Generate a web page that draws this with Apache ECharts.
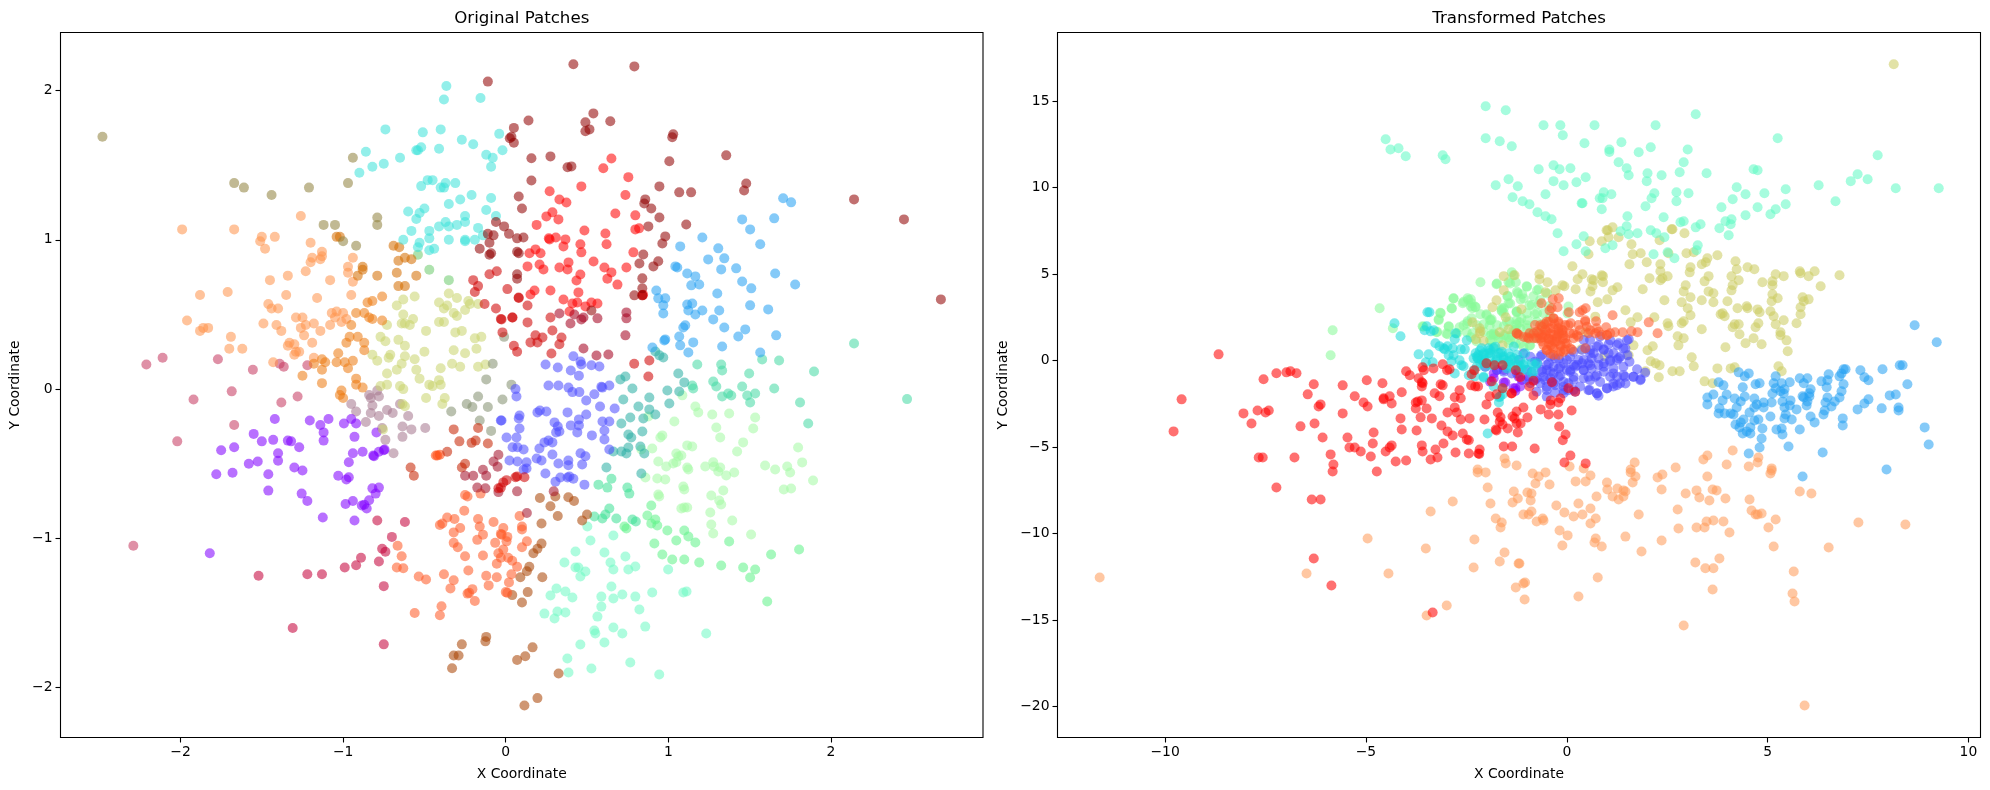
<!DOCTYPE html>
<html>
<head>
<meta charset="utf-8">
<title>Patch scatter</title>
<script src="https://cdn.jsdelivr.net/npm/echarts@6/dist/echarts.min.js"></script>
<style>html,body{margin:0;padding:0;background:#fff}#chart{width:1990px;height:790px}</style>
</head>
<body>
<div id="chart"></div>
<script>
// Original patch coordinates, one list per colour group.
const origKhaki=[[-2.48,1.69],[-1.67,1.38],[-1.61,1.35],[-1.44,1.3],[-1.21,1.35],[-.97,1.38],[-.94,1.55],[-1.12,1.1],[-1.05,1.1],[-.79,1.15],[-.79,1.1],[-1,.99],[-.92,.96]];
const origAmberDark=[[-.69,.96],[-.66,.86],[-.655,.95],[-.67,.78],[-.79,.76],[-.55,.76],[-.66,.69],[-.62,.69],[-.88,.82],[-.88,.8],[-.62,.88],[-.58,.87],[-1.04,1.02],[-1.02,1.02],[-.91,.76]];
const origAmber=[[-.85,.58],[-.82,.59],[-.76,.62],[-.92,.51],[-.87,.51],[-.84,.48],[-.82,.47],[-.76,.46],[-.95,.43],[-.96,.35],[-.91,.35],[-.98,.31],[-.87,.31],[-.87,.26],[-1.03,.24],[-1.04,.18],[-.99,.18],[-.94,.19],[-.97,.14],[-1.13,.2],[-1.11,.18],[-1.13,.13],[-1.18,.17],[-1.25,.09],[-1.13,.04],[-.92,.07],[-.92,.03],[-.88,.01],[-1.01,-.01],[-1.02,-.04],[-1,-.06]];
const origPeach=[[-1.99,1.07],[-1.67,1.07],[-1.26,1.16],[-1.5,1.02],[-1.51,.99],[-1.42,1.02],[-1.48,.94],[-1.2,.98],[-1.13,.92],[-1.13,.89],[-1.19,.88],[-1.14,.87],[-1.2,.85],[-1.23,.79],[-1.34,.76],[-1.45,.73],[-1.08,.73],[-.94,.88],[-.97,.82],[-.97,.78],[-.94,.72],[-1.71,.65],[-1.88,.63],[-1.35,.63],[-1.16,.61],[-.95,.63],[-1.46,.57],[-1.44,.54],[-1.4,.54],[-1.96,.46],[-1.88,.39],[-1.86,.41],[-1.83,.41],[-1.49,.44],[-1.41,.43],[-1.38,.39],[-1.29,.48],[-1.25,.48],[-1.26,.41],[-1.23,.43],[-1.18,.44],[-1.14,.39],[-1.24,.36],[-1.19,.31],[-1.07,.51],[-1.04,.52],[-1,.51],[-1.05,.48],[-.98,.47],[-1.08,.43],[-1.01,.45],[-1.69,.35],[-1.7,.27],[-1.62,.27],[-1.34,.29],[-1.33,.31],[-1.3,.3],[-1.29,.25],[-1.27,.25],[-1.3,.23],[-1.18,.21],[-1.43,.18]];
const origYellow=[[-.73,.43],[-.77,.35],[-.74,.32],[-.66,.33],[-.62,.29],[-.82,.23],[-.79,.19],[-.71,.23],[-.72,.21],[-.62,.22],[-.5,.25],[-.56,.2],[-.64,.17],[-.67,.13],[-.73,.105],[-.55,.13],[-.53,.07],[-.77,.02],[-.73,.03],[-.65,.02],[-.63,0],[-.47,.03],[-.45,.02],[-.41,.06],[-.4,.03],[-.4,.14],[-.28,.15],[-.33,.17],[-.17,.15],[-.125,.165],[-.25,.24],[-.32,.26],[-.18,.27],[-.19,.34],[-.15,.35],[-.31,.38],[-.27,.39],[-.49,.39],[-.57,.47],[-.59,.43],[-.62,.44],[-.64,.44],[-.63,.5],[-.67,.56],[-.63,.6],[-.56,.62],[-.41,.58],[-.35,.64],[-.3,.61],[-.23,.59],[-.22,.57],[-.17,.57],[-.25,.53],[-.38,.54],[-.36,.56],[-.32,.51],[-.3,.49],[-.41,.45],[-.38,.45],[-.49,-.06],[-.375,-.06],[-.39,-.1],[-.62,-.115],[-.635,-.1],[-.755,-.27]];
const origSageGreen=[[-.54,.9],[-.47,.8],[-.35,.73]];
const origCyan=[[-.365,2.03],[-.38,1.94],[-.155,1.95],[-.74,1.74],[-.51,1.72],[-.4,1.74],[-.27,1.67],[-.2,1.64],[-.04,1.71],[-.02,1.6],[-.41,1.61],[-.52,1.62],[-.55,1.6],[-.54,1.6],[-.65,1.55],[-.86,1.59],[-.9,1.45],[-.82,1.49],[-.75,1.51],[-.12,1.57],[-.08,1.55],[-.09,1.49],[-.48,1.4],[-.45,1.4],[-.52,1.36],[-.37,1.38],[-.31,1.38],[-.4,1.35],[-.38,1.35],[-.21,1.3],[-.28,1.27],[-.35,1.24],[-.09,1.28],[-.12,1.2],[-.5,1.21],[-.53,1.18],[-.6,1.19],[-.55,1.14],[-.06,1.16],[-.25,1.16],[-.25,1.12],[-.3,1.1],[-.37,1.12],[-.41,1.09],[-.35,1.09],[-.47,1.06],[-.58,1.06],[-.17,1.08],[-.47,1.01],[-.63,1],[-.53,.98],[-.54,.95],[-.47,.93],[-.44,.94],[-.35,1],[-.25,1],[-.25,.99],[-.19,1],[-.14,1.03]];
const origSage=[[-.01,.35],[-.08,.17],[-.12,.065],[-.17,-.05],[-.02,-.07],[.035,.03],[-.335,-.15],[-.24,-.1],[-.205,-.12],[-.11,-.12],[-.16,-.21],[-.09,-.28]];
const origRose=[[-2.21,.165],[-2.11,.21],[-1.77,.2],[-1.555,.13],[-1.39,.17],[-1.365,.15],[-1.22,.16],[-1.685,-.015],[-1.92,-.07],[-1.28,-.05],[-1.38,-.09],[-2.29,-1.05],[-2.02,-.35],[-1.67,-.24]];
const origRoseDark=[[-1.52,-1.25],[-1.22,-1.24],[-1.13,-1.24],[-1.31,-1.6],[-.75,-1.71],[-.75,-1.32],[-.99,-1.195],[-.92,-1.18],[-.89,-1.13],[-.78,-1.155],[-.76,-1.07],[-.74,-1.09],[-.7,-.99],[-.79,-.88],[-.62,-.89]];
const origPurple=[[-1.82,-1.1],[-1.42,-.2],[-1.55,-.3],[-1.5,-.35],[-1.43,-.34],[-1.75,-.41],[-1.67,-.39],[-1.34,-.345],[-1.32,-.35],[-1.27,-.39],[-1.4,-.43],[-1.4,-.48],[-1.58,-.5],[-1.525,-.485],[-1.78,-.57],[-1.68,-.56],[-1.46,-.57],[-1.3,-.525],[-1.25,-.545],[-1.46,-.68],[-1.255,-.7],[-1.22,-.75],[-1.125,-.86],[-1.205,-.21],[-1.14,-.24],[-1.12,-.29],[-1.12,-.345],[-1.09,-.2],[-.995,-.23],[-.95,-.2],[-.92,-.23],[-.93,-.32],[-.795,-.29],[-.94,-.43],[-.88,-.42],[-.815,-.445],[-.81,-.45],[-.78,-.42],[-.75,-.41],[-.745,-.405],[-.965,-.49],[-1.03,-.58],[-.965,-.59],[-.98,-.605],[-.82,-.665],[-.78,-.66],[-.8,-.7],[-.84,-.745],[-.985,-.77],[-.94,-.75],[-.885,-.78],[-.87,-.775],[-.855,-.8],[-.93,-.88]];
const origTaupe=[[-.95,-.1],[-.92,-.15],[-.86,-.22],[-.83,-.16],[-.82,-.11],[-.83,-.06],[-.78,-.05],[-.78,-.18],[-.73,-.14],[-.695,-.16],[-.65,-.1],[-.6,-.18],[-.635,-.25],[-.58,-.27],[-.635,-.32],[-.74,-.34],[-.76,-.26],[-.69,-.43],[-.495,-.26],[-.79,-.01],[-.84,-.04]];
const origBrick=[[-.32,-.27],[-.17,-.26],[-.285,-.35],[-.21,-.36],[-.185,-.345],[-.11,-.365],[-.36,-.42],[-.585,-.525],[-.565,-.58],[-.27,-.525],[-.25,-.5]];
const origOrangeRed=[[-.42,-.445],[-.43,-.445],[-.405,-.44]];
const origDuskyRose=[[-.045,-.44],[-.075,-.485],[-.05,-.52],[-.14,-.54],[-.25,-.58],[-.2,-.58],[-.12,-.58],[-.175,-.66],[-.125,-.665],[-.045,-.69],[.07,-.685],[.295,-.685],[.13,-.83]];
const origCoral=[[-.25,-.71],[-.235,-.72],[-.155,-.7],[-.255,-.815],[-.36,-.86],[-.315,-.87],[-.405,-.91],[-.39,-.9],[-.28,-.93],[-.17,-.87],[-.16,-.92],[-.075,-.89],[-.015,-.93],[-.32,-.96],[-.14,-.975],[-.175,-1.01],[-.32,-1.03],[-.295,-1.06],[-.065,-1.03],[-.03,-.97],[-.025,-.975],[.01,-.99],[.005,-1.02],[-.015,-1.075],[-.25,-1.12],[-.14,-1.115],[-.045,-1.1],[-.03,-1.13],[.015,-1.13],[.04,-1.15],[-.055,-1.17],[.07,-1.19],[-.23,-1.215],[-.665,-1.05],[-.64,-1.12],[-.67,-1.195],[-.63,-1.2],[-.535,-1.255],[-.49,-1.275],[-.38,-1.24],[-.32,-1.28],[-.34,-1.335],[-.205,-1.34],[-.235,-1.37],[-.225,-1.365],[-.12,-1.25],[-.055,-1.26],[-.105,-1.315],[.035,-1.24],[.02,-1.295],[0,-1.36],[.01,-1.365],[-.19,-1.42],[-.395,-1.455],[-.56,-1.5],[-.405,-1.515],[.085,-.85],[.1,-.92],[.1,-.94],[.13,-1.02],[.1,-1.06]];
const origBrown=[[-.27,-1.71],[-.32,-1.785],[-.29,-1.785],[-.33,-1.87],[-.12,-1.66],[-.125,-1.69],[.165,-1.73],[.12,-1.79],[.07,-1.815],[.325,-1.905],[.195,-2.07],[.115,-2.12],[.21,-.73],[.305,-.72],[.385,-.725],[.42,-.75],[.275,-.785],[.32,-.85],[.22,-.9],[.47,-.88],[.5,-.84],[.22,-1.035],[.195,-1.07],[.17,-1.1],[.145,-1.19],[.13,-1.22],[.09,-1.26],[.225,-1.26],[.135,-1.36],[.04,-1.38],[.1,-1.43]];
const origBlue=[[.066,-.05],[.495,-.076],[.545,-.035],[.58,-.116],[.67,-.13],[.495,-.17],[.38,-.156],[.195,-.156],[.21,-.143],[.25,-.15],[.085,-.177],[.08,-.197],[-.026,-.21],[.3,-.223],[.32,-.25],[.45,-.203],[.45,-.243],[.4,-.243],[.595,-.217],[.637,-.217],[.085,-.264],[.33,-.284],[.31,-.29],[.44,-.29],[.607,-.277],[.53,-.31],[.005,-.324],[.066,-.324],[.263,-.344],[.287,-.357],[.238,-.357],[.607,-.337],[.207,-.398],[.042,-.39],[.072,-.39],[.11,-.405],[.287,-.438],[.46,-.43],[.49,-.45],[.637,-.405],[.023,-.478],[.072,-.485],[.128,-.49],[.19,-.465],[.22,-.478],[.324,-.498],[.385,-.478],[.385,-.51],[.47,-.505],[.128,-.532],[.11,-.538],[.244,-.565],[.336,-.592],[.38,-.592],[.392,-.585],[.416,-.6],[.306,-.62],[.484,-.64],[.416,.22],[.46,.185],[.465,.165],[.245,.165],[.32,.145],[.4,.125],[.45,.09],[.527,.16],[.576,.152],[.263,.024],[.324,.024],[.386,.01],[.41,-.02],[.453,-.02],[.588,.016],[.594,.01],[.637,.024],[.06,0],[-.03,-.21]];
const origRed=[[.65,1.545],[.6,1.48],[.754,1.42],[.465,1.358],[.736,1.3],[.27,1.325],[.33,1.27],[.373,1.25],[.674,1.177],[.797,1.164],[.287,1.184],[.25,1.157],[.324,1.137],[.19,1.1],[.484,1.063],[.797,1.07],[.82,1.077],[.613,1.043],[.27,1.003],[.265,1.01],[.308,1.016],[.367,1.003],[.355,.956],[.459,.97],[.62,.97],[.465,.916],[.785,.916],[.183,.936],[.146,.91],[.214,.91],[.54,.855],[.386,.849],[.208,.835],[.134,.822],[.232,.802],[.33,.815],[.38,.802],[.607,.815],[.65,.782],[.742,.815],[.459,.768],[.435,.728],[.625,.74],[.275,.661],[.177,.661],[.152,.634],[.447,.648],[.355,.6],[.41,.574],[.44,.58],[.527,.58],[.564,.574],[.49,.554],[.392,.52],[.687,.7],[.84,.628],[.845,.632]];
const origBrickRed=[[-.1,.77],[-.055,.79],[-.2,.73],[-.17,.69],[-.19,.65],[.01,.67],[-.13,.57],[-.06,.54],[-.03,.47],[.04,.48],[-.02,.38],[.05,.29],[.07,.25],[.08,.61],[.079,.614],[.134,.56],[.042,.48],[-.026,.467],[.134,.447],[.275,.48],[.287,.393],[.183,.36],[.152,.313],[.195,.313],[.226,.346],[.343,.346],[.33,.3],[.281,.239],[.79,.17],[.883,.192],[.877,.085],[-.045,-.665],[-.03,-.66],[-.015,-.625],[.005,-.61],[.06,-.59],[.115,-.59],[.07,-.585]];
const origMaroon=[[-.11,2.06],[.05,1.75],[.035,1.69],[.025,1.68],[.05,1.65],[.08,1.29],[.1,1.21],[-.06,1.12],[-.01,1.09],[-.11,1.04],[-.075,1.03],[.02,1.04],[-.1,.98],[-.16,.94],[-.1,.9],[-.09,.91],[.07,1.01],[.07,.92],[.08,.91],[.07,.77],[.07,.74],[.416,2.176],[.791,2.162],[.14,1.8],[.539,1.847],[.49,1.787],[.643,1.794],[.515,1.74],[.49,1.727],[1.03,1.707],[1.024,1.687],[.158,1.546],[.275,1.559],[.38,1.486],[.404,1.492],[1.006,1.526],[1.356,1.566],[.158,1.398],[.945,1.358],[1.067,1.318],[1.14,1.318],[1.479,1.378],[1.466,1.331],[.858,1.271],[.852,1.244],[.895,1.21],[.945,1.15],[1.11,1.103],[.877,1.09],[.109,1.016],[.981,1.023],[.963,.976],[.846,.902],[.938,.856],[.822,.842],[.908,.822],[.84,.742],[.84,.675],[.791,.628],[.84,.628],[2.142,1.271],[2.449,1.137],[2.676,.601],[.527,.527]];
const origCrimson=[[.33,.507],[.422,.5],[.398,.44],[.478,.48],[.465,.467],[.564,.474],[.742,.514],[.742,.474],[.736,.36],[.478,.272],[.558,.225],[.631,.232]];
const origSky=[[1.706,1.278],[1.755,1.251],[1.454,1.137],[1.651,1.144],[1.503,1.07],[1.209,1.016],[1.073,.956],[1.565,.97],[1.307,.943],[1.344,.876],[1.245,.869],[1.043,.822],[1.055,.815],[1.325,.802],[1.417,.809],[1.116,.775],[1.166,.755],[1.657,.775],[1.454,.721],[1.78,.701],[1.141,.695],[1.19,.701],[1.51,.675],[.926,.661],[1.301,.641],[.981,.608],[.938,.608],[.969,.561],[1.116,.567],[1.147,.574],[1.503,.561],[1.614,.534],[1.123,.527],[1.209,.527],[1.313,.527],[.969,.507],[1.166,.5],[1.276,.467],[1.104,.427],[1.092,.413],[1.344,.413],[1.473,.4],[1.067,.353],[1.43,.353],[1.663,.36],[.981,.333],[.975,.326],[1.153,.313],[1.073,.293],[1.331,.286],[1.123,.245],[1.565,.245],[.902,.279]];
const origMintAqua=[[1.178,.165],[1.325,.165],[1.331,.125],[1.577,.199],[1.681,.192],[1.497,.105],[1.896,.118],[2.142,.306],[1.276,.051],[1.295,.018],[1.454,.018],[1.651,.004],[1.147,.024],[1.153,.004],[1.368,-.03],[1.387,-.043],[1.331,-.05],[1.485,-.043],[1.534,-.03],[1.81,-.09],[2.468,-.067],[1.86,-.23],[1.503,-.09]];
const origTeal=[[.779,.004],[.736,.085],[.705,.065],[1.061,.105],[1.098,.045],[.994,-.009],[1.067,-.016],[.883,-.056],[.723,-.07],[1.006,-.096],[.816,-.116],[.883,-.136],[.92,-.17],[.846,-.197],[.766,-.19],[.711,-.23],[.84,-.284],[.754,-.304],[.772,-.324],[.828,-.384],[.754,-.391],[.852,-.431],[.742,-.431],[.662,-.418],[.711,-.418],[.619,-.525],[.834,-.565],[.92,.252],[.945,.226],[.969,.212]];
const origMintStrong=[[.57,-.64],[.625,-.66],[.65,-.6],[.748,-.66],[.76,-.7],[.637,-.8],[.613,-.84],[.545,-.853],[.594,-.867],[.68,-.867],[.779,-.874],[.8,-.887]];
const origGreen=[[.73,-.92],[.742,-.934],[.895,-.78],[.871,-.847],[.92,-.874],[.895,-.9],[.932,-.914],[.994,-.947],[1.098,-.947],[1.123,-.987],[1.049,-1.014],[.914,-1.034],[1.166,-1.028],[1.374,-1.021],[.963,-1.108],[1.024,-1.142],[1.098,-1.142],[1.19,-1.162],[1.325,-1.182],[1.46,-1.195],[1.534,-1.209],[1.503,-1.262],[1.632,-1.108],[1.804,-1.075],[1.608,-1.423]];
const origLightMint=[[.502,-.92],[.662,-.981],[.521,-1.014],[.429,-1.088],[.607,-1.095],[.736,-1.122],[.361,-1.162],[.644,-1.162],[.429,-1.195],[.447,-1.195],[.49,-1.222],[.662,-1.209],[.754,-1.209],[.797,-1.189],[.999,-1.209],[.459,-1.256],[.65,-1.323],[.312,-1.336],[.367,-1.356],[.275,-1.383],[.41,-1.396],[.588,-1.39],[.662,-1.403],[.717,-1.376],[.797,-1.39],[.901,-1.363],[1.092,-1.363],[1.112,-1.356],[.588,-1.457],[.822,-1.477],[.238,-1.504],[.318,-1.49],[.367,-1.497],[.3,-1.537],[.564,-1.524],[.662,-1.597],[.858,-1.591],[.545,-1.617],[.551,-1.637],[.717,-1.637],[1.233,-1.637],[.607,-1.698],[.459,-1.711],[.379,-1.805],[.766,-1.832],[.527,-1.872],[.386,-1.899],[.944,-1.912]];
const origPaleGreen=[[1.166,-.116],[1.184,-.156],[1.27,-.17],[1.374,-.163],[1.534,-.19],[1.037,-.217],[1.295,-.257],[1.522,-.264],[1.319,-.324],[.963,-.31],[.951,-.324],[1.46,-.357],[1.116,-.377],[1.147,-.384],[1.423,-.418],[1.798,-.391],[.901,-.398],[.834,-.405],[1.049,-.431],[1.08,-.445],[1.061,-.451],[.938,-.485],[1.03,-.498],[1.049,-.49],[.987,-.518],[1.116,-.525],[1.123,-.538],[1.227,-.518],[1.276,-.49],[1.282,-.518],[1.319,-.525],[1.307,-.552],[1.356,-.579],[1.405,-.559],[1.595,-.512],[1.657,-.538],[1.731,-.518],[1.749,-.559],[1.823,-.491],[1.89,-.612],[.859,-.592],[.932,-.599],[.981,-.606],[1.092,-.652],[1.098,-.672],[1.338,-.679],[1.71,-.672],[1.755,-.666],[.938,-.706],[.944,-.72],[1.264,-.713],[1.313,-.746],[1.325,-.773],[1.08,-.8],[1.098,-.793],[1.116,-.793],[1.258,-.827],[1.393,-.88],[1.264,-.907],[1.276,-.967],[1.509,-.974],[.877,-.183],[1.086,-.042]];

// Transformed patch coordinates, one list per colour group.
const transMint=[[-4.51,12.79],[-4.39,12.2],[-4.19,12.27],[-4.01,11.81],[-3.09,11.87],[-3.02,11.64],[-2.02,14.7],[-1.52,14.47],[-2.02,12.85],[-1.67,12.68],[-1.37,12.39],[-1.45,10.48],[-1.77,10.13],[-1.22,10.08],[-1.35,9.44],[-1.1,9.21],[-.58,13.6],[-.16,13.6],[-.1,13.02],[.69,13.6],[.44,12.56],[1.06,12.2],[1.06,12.06],[1.36,12.62],[1.79,12.04],[2.09,12.33],[2.21,13.6],[3.21,14.24],[3.01,12.2],[5.25,12.85],[1.29,11.46],[1.49,11.12],[1.54,10.71],[2.01,10.83],[2.36,10.71],[1.99,10.37],[2.91,11.46],[2.81,10.88],[3.48,10.83],[4.65,11.06],[4.75,11],[7.74,11.87],[7.24,10.77],[7.07,10.37],[7.49,10.48],[6.27,10.13],[8.19,9.96],[9.26,9.96],[-.7,11.06],[-.33,11.29],[-.18,11.06],[.09,11.12],[-.33,10.37],[-.08,10.13],[.24,10.31],[.47,10.6],[-.93,9.04],[-.53,9.61],[-.73,8.57],[-.53,8.34],[-.38,8.17],[.92,9.73],[.82,9.38],[.89,9.38],[1.11,9.61],[.87,8.75],[.37,9.09],[.39,9.09],[2.18,9.67],[2.11,9.38],[1.96,8.92],[2.73,9.73],[2.73,9.21],[3.03,9.67],[4.23,10.02],[4.45,9.61],[4.13,9.32],[4.92,9.67],[5.45,9.9],[5.45,9.03],[3.85,8.86],[4.75,8.86],[5.2,8.75],[5.07,8.46],[4.45,8.4],[6.69,9.21],[4.1,8.17],[3.95,8.05],[4.08,7.88],[3.8,7.65],[4.03,7.24],[1.51,8.34],[2.41,8.28],[2.83,7.99],[2.91,8.05],[3.33,7.88],[3.21,7.7],[1.49,7.76],[1.34,7.47],[1.54,7.3],[1.76,7.36],[2.09,7.53],[2.23,7.36],[2.43,7.13],[-.23,7.36],[.42,7.19],[.24,6.72],[-.08,6.32],[.47,6.32],[.96,6.49],[1.14,6.67],[2.16,6.15],[2.51,6.26],[2.68,5.91],[3.26,6.67],[3.23,6.38]];
const transOlive=[[8.14,17.13],[.99,7.53],[1.02,7.53],[1.14,7.7],[2.61,7.59],[2.63,7.59],[2.93,7.36],[.57,6.9],[.87,6.9],[1.04,7.13],[1.29,7.13],[2.31,6.95],[1.61,6.72],[1.64,6.15],[1.84,6.2],[2.53,6.2],[2.98,6.2],[3.16,6.26],[3.75,6.09],[3.5,5.91],[3.46,5.68],[3.36,5.57],[4.2,5.74],[4.23,5.28],[4.5,5.39],[4.67,5.28],[.54,6.15],[.14,5.45],[1.56,5.57],[1.99,5.68],[2.33,5.57],[2.33,5.16],[3.08,5.39],[3.06,5.1],[.39,4.99],[.27,4.7],[.87,4.93],[.9,4.88],[.67,4.64],[.62,4.7],[.9,4.53],[2.06,4.76],[2.51,4.87],[2.38,4.76],[2.33,4.64],[3.53,4.88],[3.43,4.58],[4.1,4.87],[4.28,4.64],[5.2,4.99],[5.4,4.88],[5.12,4.58],[4.87,4.53],[5.12,4.35],[5.8,5.16],[5.82,5.05],[6.02,4.88],[6.17,5.16],[6.79,4.93],[6.32,4.3],[4.13,4.35],[4.1,4.06],[2.96,4.35],[2.91,4],[3.53,4],[3.65,3.89],[1.89,4.12],[1.26,4.24],[1.14,4.06],[.59,4],[.64,4.3],[.22,4.12],[-.06,4.3],[3.08,3.66],[3.36,3.49],[3.65,3.37],[4,3.43],[5.12,3.83],[5.25,3.6],[5.1,3.43],[5.87,3.66],[5.9,3.43],[6.02,3.54],[2.43,3.49],[2.86,3.37],[1.01,3.54],[.77,3.37],[4.25,3.02],[4.48,3.14],[4.5,3.02],[4.75,2.96],[4.8,2.79],[5.07,2.85],[5.82,3.08],[5.82,2.68],[3.01,3.02],[3.08,2.62],[1.46,2.91],[1.76,2.5],[2.18,2.5],[3.83,2.68],[3.88,2.73],[3.93,2.56],[5.15,2.56],[5.4,2.33],[5.2,2.1],[5.72,2.16],[4.77,2.16],[4.7,1.93],[4.18,2.1],[4.28,2.1],[4.13,1.93],[1.59,2.21],[2.51,2.16],[2.53,1.98],[2.91,2.27],[2.86,2.16],[3.36,1.81],[4.3,1.52],[5.32,1.64],[5.32,1.46],[5.47,1.17],[4.65,1.29],[4.45,1],[4.85,.94],[2.76,1.41],[2.91,1.29],[2.78,.88],[2.14,.83],[2.01,.6],[1.66,.88],[1.54,.31],[3.95,.77],[5.5,.54],[3.11,.19],[3.16,-.33],[2.09,-.04],[2.21,-.16],[2.31,-.27],[2.63,-.62],[2.81,-.62],[3.75,-.45],[4.08,-.45],[4.18,-.39],[5.27,-.33],[5.35,-.62],[3.43,-1.2],[3.63,-1.31],[2.29,-.96],[1.96,-.62],[.94,.25],[.36,.66],[.47,1.64],[.71,2.54],[-1.57,4.88],[-1.75,3.49],[-1.85,3.08],[-.68,4.99],[-.48,4.53],[-.68,4.7],[-.53,3.95],[-.28,4.06],[-.11,4.35],[-2.17,1.87],[-2.35,2.21],[-2.17,1.57],[-2.07,1.13],[-1.6,.88],[-1.67,1.64],[-1.13,2.97],[-1.3,4.93],[-1.57,4.06],[-1.52,2.5],[-2.15,1.69],[-2.27,1.23],[-1.45,1.81]];
const transGreen=[[-4.66,3.02],[-5.83,1.75],[-5.88,.31],[-2.15,4.53],[-1.37,5.1],[-1.75,4.41],[-1.45,4.53],[-1.27,4.53],[-2.82,3.6],[-2.87,3.02],[-2.59,3.31],[-2.47,3.6],[-2.39,3.54],[-2.39,3.14],[-2.27,3.08],[-3.14,2.74],[-3.19,2.39],[-2.15,2.68],[-2,2.68],[-1.89,2.33],[-1.92,2.04],[-2.47,2.27],[-2.37,2.45],[-2.94,1.98],[-2.67,1.92],[-2.57,2.04],[-3.59,1.98],[-4.33,1.87],[-3.24,1.64],[-2.97,1.52],[-2.74,1.58],[-2.49,1.64],[-2.39,1.35],[-2.25,1.12],[-1.9,1.46],[-1.82,1.52],[-1.7,1.29],[-1.47,3.74],[-1.45,3.31],[-1.57,3.02],[-1.62,2.85],[-1.22,3.89],[-1.25,2.85],[-1.27,2.1],[-1.45,1],[-1.82,.77],[-1.33,4.93],[-1,4.3],[-.7,4.12],[-1.48,3.72],[-1.11,3.83],[-1.15,3.54],[-.83,3.72],[-.93,3.2],[-1.62,3.02],[-1.57,2.74],[-.7,3.26],[-.45,3.14],[-1.25,2.79],[-1.25,2.33],[-1.13,2.45],[-.98,2.33],[-1.18,2.21],[-.8,2.68],[-.58,2.74],[-1.87,2.39],[-2,2.62],[-2.07,2.1],[-1.57,1.98],[-1.43,2.27],[-1.87,1.52],[-1.77,1.46],[-1.57,1.46],[-1.45,1.35],[-1.23,1.52],[-1.03,1.35],[-.83,1.64],[-.63,1.81],[-1.87,1.12],[-1.27,1],[-.93,.88],[-2.35,1.58],[-2.37,3.31],[-2.35,3.02],[.04,3.12],[.02,2.73],[-1.33,1.77],[-1.16,1.87],[-.99,1.87],[-.75,2.25],[-.58,2.16],[-.41,2.54],[-.91,1.58],[-.75,1.29],[-1.37,1.48],[-1.74,4.46],[-1.41,4.46],[-1.24,3.98],[-.99,4.27],[-.74,4.07],[-.49,3.88],[-1.41,3.3],[-1.07,3.59],[-.87,3.21],[-.66,3.5],[-1.62,2.92],[-1.24,2.82],[-.99,2.73],[-.74,2.73],[-1.91,2.34],[-1.74,2.05],[-1.49,2.24],[-1.24,2.05],[-.99,2.05],[-2.07,1.67],[-1.82,1.57],[-1.53,1.47],[-1.28,1.76],[-1.08,.8],[-1.65,1.28],[-1.41,1.18],[-1.16,.99],[-.91,.89],[-1.91,1.18],[-2.24,2.05],[-2.48,2.15],[-2.57,3.4],[-2.45,3.5],[-2.28,3.11],[-2.82,3.59],[-2.86,3.01],[-3.19,2.34],[-3.15,2.76],[-2.94,1.96],[-3.23,1.67],[-3,1.57],[-2.74,1.57],[-3.57,1.96]];
const transCyan=[[-4.29,2.16],[-4.14,1.41],[-3.47,2.79],[-3.42,2.79],[-3.49,1.98],[-3.54,1.75],[-3.39,1.69],[-3.31,1.75],[-3.69,.36],[-3.44,.36],[-3.51,-.1],[-3.34,-.1],[-3.27,1],[-3.17,.83],[-3.07,.71],[-2.97,.83],[-3.04,.65],[-2.94,.31],[-2.84,.71],[-2.82,.31],[-2.87,-.04],[-2.79,1.23],[-2.77,1.58],[-2.64,.65],[-2.54,.65],[-2.49,1.17],[-2.67,.02],[-2.62,-.27],[-2.57,-.33],[-2.32,-.56],[-2.44,-.85],[-2.29,-.91],[-2.79,-.74],[-2.27,.42],[-2.22,.13],[-2.07,-.1],[-2.12,.71],[-1.95,.42],[-1.82,.71],[-1.7,.42],[-1.57,.13],[-1.45,.42],[-1.32,.81],[-2.07,-.93],[-1.82,-1.5],[-1.6,-1.62],[-1.69,-2.12],[-1.69,-2.42],[-1.6,-1.96],[-1.97,-4.21],[-2.2,.13],[-2.07,.33],[-1.91,.23],[-1.74,.04],[-1.57,-.16],[-1.91,-.25],[-2.15,-.16],[-1.45,-.06],[-1.32,.13],[-1.2,-.25],[-2.32,.13],[-2.2,.33],[-2.07,.13],[-1.91,.42],[-1.78,-.06],[-1.57,.23],[-1.37,.04],[-1.16,.04],[-1.04,-.16],[-.79,-.25],[-.87,-.74],[-1.24,.33],[-2.16,.6],[-1.95,.71],[-1.66,.42],[-2.24,-.35],[-2.03,-.35],[-1.66,-2.08],[-1.04,.42],[-1.41,-.35],[-1.16,-.35],[-2.07,-.99],[-2.24,.22],[-2.11,.03],[-1.91,.61],[-1.74,.22],[-1.57,.03],[-1.41,.22],[-1.24,-.26],[-1.08,-.26],[-.87,-.16],[-.74,-.16],[-1.99,-.17],[-1.82,-.26],[-1.49,-.45],[-.99,-.55],[-.83,-.65],[-2.07,.41],[-1.78,.8],[-1.62,.51],[-1.41,-.26],[-1.12,-.55]];
const transBlue=[[1.54,1.23],[1.29,1],[1.04,.94],[.79,.88],[.58,1.19],[.47,.71],[.67,.42],[.92,.65],[1.16,.42],[1.41,.71],[1.51,.31],[1.29,.13],[1.08,-.04],[.79,.13],[.54,-.16],[.29,.04],[.08,.23],[-.08,-.16],[-.29,.13],[-.45,-.16],[-.62,.33],[-.79,-.06],[-.62,-.54],[-.41,-.64],[-.2,-.45],[0,-.54],[.21,-.35],[.42,-.54],[.62,-.45],[.71,-.93],[.54,-.93],[.92,-.64],[1.16,-.45],[1.41,-.35],[1.56,-.06],[1.75,-.5],[1.84,-1.08],[1.95,-.7],[1.66,-.93],[1.45,-.93],[1.33,-1.31],[1.16,-1.5],[1,-1.6],[1.25,-.93],[1.08,-.93],[.75,-1.89],[.79,-2.03],[.57,-1.7],[.33,-1.5],[.17,-1.12],[.04,-1.31],[-.2,-.93],[-.08,-1.5],[-.33,-1.31],[-.5,-1.7],[-.66,-1.31],[-.75,-1.8],[-.99,-1.12],[-.41,-1.02],[-.58,-.93],[.17,-1.7],[-.08,-1.89],[-.29,-1.85],[-.5,-2.08],[.42,-1.02],[.38,-.16],[.92,-.16],[.08,-.64],[.17,-.25],[-.33,-.35],[-.5,-.54],[-.75,-1.02],[1.25,.04],[1.04,.42],[.62,.13],[.58,.62],[.42,1.19],[.83,1.39],[-.91,-1.31],[-1.57,-.64],[-1.37,-.74],[-1.2,-.54],[-1.74,-.54],[-.99,-.54],[-.66,.22],[-.5,-.26],[-.33,-.74],[-.54,-1.13],[-.16,-.36],[0,.03],[.09,-.55],[-.08,-1.23],[.25,-.26],[.42,.03],[.58,.41],[.75,.8],[.92,.61],[1.08,1.18],[1.25,.9],[1.5,1.18],[1.46,.7],[1.33,.22],[1.08,.03],[.92,-.36],[.75,-.84],[.58,-1.13],[.42,-.55],[.83,-1.23],[1.16,-1.32],[1.41,-.84],[1.66,-.94],[1.83,-1.13],[.54,-1.71],[.75,-1.9],[1,-1.61],[1.25,-1.42],[1.46,-1.32],[.04,-1.71],[.21,-1.8],[-.37,-1.22],[-.74,-.16],[-.91,.22],[-1.08,.41],[-1.2,.03],[-1.24,-.74],[-.41,.22],[-.2,.12],[.17,.51],[.38,.61],[.58,-.26],[1.16,-.74],[.79,-.26],[.17,-.94],[-.16,-.84],[-.62,-.65],[-.87,-.65],[-.5,-1.51],[-.29,-1.42],[-.08,-1.71]];
const transPurple=[[-2.03,-.35],[-1.82,-.74],[-1.57,-1.27],[-1.33,-1.6],[-1.12,-1.12],[-.95,-.93],[-.79,-1.12],[-1.16,-1.5],[-1.82,-1.02],[-1.53,-1.27],[-1.28,-1.6],[-1.74,-.54],[-1.57,-.54],[-1.91,-1.22],[-1.2,-.93],[-1.28,-1.76]];
const transRed=[[-8.67,.36],[-7.55,-1.08],[-7.23,-.73],[-6.98,-.68],[-6.88,-.62],[-6.73,-.73],[-6.3,-1.37],[-6.45,-1.95],[-5.58,-1.43],[-4.98,-1.14],[-4.59,-1.31],[-5.28,-2.06],[-4.41,-2.06],[-4.56,-2.18],[-4.11,-1.83],[-4,-.62],[-3.91,-.85],[-3.59,-.39],[-3.56,-.56],[-3.32,-.45],[-3.09,-.21],[-2.92,-.5],[-2.98,-.56],[-3.69,-1.02],[-3.61,-1.25],[-3.59,-1.31],[-3.61,-1.49],[-3.14,-1.37],[-3.09,-1.43],[-2.67,-1.72],[-3.29,-1.89],[-3.17,-2.06],[-2.79,-2.12],[-2.64,-2.18],[-2.38,-1.43],[-2.21,-1.49],[-2.37,-.79],[-2.3,-.56],[-1.87,-1.2],[-1.6,-1.6],[-2,-.16],[-1.8,-.27],[-1.6,-.27],[-1.27,-.56],[-1.92,-2.06],[-1.75,-1.95],[-1.37,-1.89],[-9.59,-2.24],[-9.79,-4.09],[-8.05,-3.05],[-7.7,-2.88],[-7.5,-3],[-7.42,-2.88],[-7.85,-3.63],[-7.67,-5.6],[-7.57,-5.6],[-7.23,-7.33],[-6.78,-5.6],[-6.63,-3.8],[-6.28,-3.63],[-6.18,-2.65],[-6.13,-2.53],[-6.08,-4.44],[-5.88,-5.42],[-5.81,-6],[-5.83,-6.41],[-6.35,-8.03],[-6.13,-8.03],[-6.3,-11.44],[-5.86,-13],[-5.58,-3.05],[-5.46,-4.44],[-5.41,-5.02],[-5.28,-5.02],[-5.13,-5.25],[-4.88,-5.54],[-4.73,-6.41],[-4.26,-5.83],[-4,-5.77],[-4.51,-5.25],[-4.41,-5.02],[-4.36,-4.9],[-4.83,-4.79],[-4.81,-4.15],[-4.11,-3.98],[-4.14,-3.34],[-4.96,-2.65],[-5.06,-2.42],[-4.56,-2.24],[-4.36,-2.48],[-3.76,-2.77],[-3.76,-2.42],[-3.71,-2.36],[-3.61,-2.3],[-3.49,-2.77],[-3.64,-3.28],[-3.36,-3.34],[-3.74,-4.04],[-3.61,-4.9],[-3.59,-5.25],[-3.39,-5.71],[-3.27,-5.14],[-3.22,-5.6],[-3.07,-4.79],[-2.84,-4.33],[-2.97,-4.09],[-3.12,-3.75],[-2.97,-3],[-2.79,-2.71],[-2.74,-3],[-2.64,-3.4],[-2.42,-3.34],[-2.59,-4.21],[-2.49,-4.56],[-2.44,-4.6],[-2.77,-5.31],[-2.44,-5.37],[-2.17,-5.14],[-2.2,-5.37],[-2.18,-5.4],[-2.05,-3.4],[-2,-2.53],[-1.72,-3],[-1.65,-3.28],[-1.67,-3.52],[-1.6,-3.69],[-1.77,-3.98],[-1.75,-4.04],[-1.47,-3.92],[-1.35,-3.23],[-1.25,-2.94],[-1.3,-3.34],[-1.25,-3.63],[-1.22,-4.15],[-1.57,-4.96],[-1.36,-4.96],[-3.34,-14.56],[-.8,-5.08],[-.19,-3.81],[-.03,-4.27],[-.1,-4.6],[.09,-5.48],[-.06,-5.89],[.47,-5.94],[.12,-2.88],[-.21,-3.11],[-.45,-3.11],[-.65,-2.82],[-.41,-2.53],[-.4,-2.3],[-.21,-2.42],[-.16,-2.19],[-.98,-3.29],[-1.08,-2.71],[-1.15,-3.63],[-.83,-2.01],[-1.38,-1.9],[-2.28,-1.5],[-1.16,-.96],[-.83,-1.16],[-.93,-1.5],[-.37,-1.25],[.04,-1.6],[.21,-1.8]];
const transOrangeRed=[[-.63,3.31],[-.35,3.54],[-.2,3.6],[-.23,3.08],[-.38,3.02],[-.43,2.89],[.05,2.79],[.32,2.79],[.39,2.91],[.47,3.02],[1.14,2.62],[2.04,2.21],[2.26,1.58],[.73,2.27],[.46,2.33],[.98,1.92],[.74,1.87],[.1,2.16],[.29,2.06],[.5,1.96],[.54,1.58],[.87,1.48],[1,1.48],[1.2,1.64],[1.39,1.64],[1.61,1.69],[1.76,1.64],[-1.25,1.58],[-1.2,1.5],[-.98,1.35],[-.93,1.58],[-.83,1.29],[-.33,2.44],[-.45,2.25],[-.21,2.25],[-.62,1.96],[-.41,1.87],[-.21,1.87],[-.04,2.06],[-.7,1.58],[-.54,1.48],[-.33,1.48],[-.12,1.58],[.08,1.58],[.25,1.48],[-.62,1.1],[-.45,1],[-.25,1.1],[-.04,1],[-.33,.71],[-.5,.62],[-.16,.52],[-.33,.33],[-.04,.62],[.13,.62],[.46,.71],[.17,1.29],[.29,1.38],[-.37,1.19],[-.75,1.29],[-.79,2.06],[.71,1.58],[1.08,1.58],[-.55,2.1],[-.3,2.1],[-.1,1.75],[-.5,1.7],[-.25,1.3],[-.45,1.25],[-.15,.85],[-.4,.9],[-.6,1.35],[-.2,1.65],[-.1,1.25],[-.66,2.05],[-.5,2.24],[-.33,2.44],[-.2,2.15],[-.74,1.67],[-.54,1.76],[-.33,1.86],[-.12,1.76],[.04,2.05],[-.66,1.28],[-.45,1.28],[-.25,1.38],[-.04,1.28],[.17,1.57],[-.58,.89],[-.37,.8],[-.16,.89],[0,.99],[-.41,.41],[-.2,.32],[-.08,.51],[-.5,.6],[.09,.7],[-.29,1.09],[-.41,1.57],[-.62,1.47],[-.2,1.57],[-.08,1.47],[.33,1.76],[.46,2.24],[.58,1.76],[.79,1.67],[1,1.47],[-1.24,1.57],[-1.07,1.36],[-.95,1.28],[-.83,1.57]];
const transSky=[[8.66,2.04],[9.21,1.06],[6.89,-.5],[6.94,-.5],[7.31,-.56],[7.41,-.96],[7.51,-1.14],[7.86,-.5],[8.29,-.27],[8.36,-.27],[8.48,-1.37],[6.89,-1.37],[6.84,-.74],[6.79,-.91],[6.52,-.79],[6.49,-1.14],[6.34,-1.2],[6.47,-1.54],[6.84,-1.77],[5.99,-1.02],[5.8,-1.02],[5.9,-1.31],[6.07,-1.66],[6.04,-1.89],[5.87,-2.06],[5.55,-1.25],[5.2,-.91],[5.15,-1.31],[5.35,-1.31],[5.2,-1.6],[5.32,-1.77],[5.42,-1.66],[4.7,-1.37],[4.8,-1.31],[4.28,-.68],[4.43,-.91],[4.53,-.74],[3.78,-1.25],[3.9,-1.43],[4.38,-1.54],[3.5,-2.13],[3.65,-1.96],[3.5,-2.53],[3.88,-2.3],[3.98,-1.96],[4.18,-2.19],[4.33,-2.36],[4.43,-2.07],[4.67,-2.19],[4.73,-2.53],[4.67,-2.71],[4.9,-2.42],[4.9,-2.71],[5.1,-2.42],[5.12,-1.9],[5.37,-2.36],[5.4,-1.9],[5.57,-2.3],[5.55,-2.59],[5.42,-2.71],[5.72,-2.82],[5.9,-2.13],[6.04,-2.07],[5.99,-2.36],[5.97,-2.59],[6.49,-2.13],[6.44,-2.42],[6.67,-2.36],[6.79,-2.13],[6.59,-2.65],[6.42,-2.88],[6.39,-3.11],[6.87,-3.34],[6.87,-3.75],[6.17,-3.57],[6.07,-3.23],[7.24,-2.82],[7.41,-2.48],[7.51,-2.24],[7.84,-2.76],[8.04,-2.01],[8.19,-1.96],[8.26,-2.71],[8.26,-2.88],[8.91,-3.86],[9.01,-4.85],[6.37,-5.31],[7.96,-6.29],[5.87,-6.7],[5.52,-4.96],[4.8,-5.02],[4.53,-5.37],[4.85,-4.5],[4.87,-3.92],[5.8,-3.98],[5.22,-3.98],[5.35,-3.92],[5.37,-4.27],[5.6,-3.4],[5.45,-3.11],[5.42,-3.34],[5.07,-3.23],[4.67,-3.46],[4.77,-3.4],[4.55,-3],[4.23,-2.71],[3.8,-2.76],[3.78,-3.05],[3.93,-3.05],[4.08,-3.05],[4.15,-3.11],[4.4,-3.4],[4.33,-3.57],[4.2,-3.69],[4.3,-3.86],[4.38,-4.21],[4.48,-4.09],[4.57,-4.21],[4.57,-3.86]];
const transPeach=[[-11.63,-12.53],[-6.48,-12.3],[-4.44,-12.3],[-4.96,-10.28],[-3.51,-10.86],[-3.49,-14.73],[-2.99,-14.15],[-3.39,-8.72],[-2.84,-8.14],[-2.22,-6.29],[-2.22,-6.46],[-2.02,-6.46],[-1.97,-7.33],[-1.9,-8.26],[-1.77,-9.12],[-1.62,-9.36],[-1.65,-9.64],[-2.3,-10.34],[-1.55,-11.09],[-1.67,-11.61],[-2.32,-11.96],[-1.27,-13.11],[-1.55,-5.66],[-1.52,-5.94],[-1.25,-6.06],[-1.32,-7.56],[-1.35,-8.2],[-1.22,-7.97],[-1.2,-11.72],[-.85,-6.52],[-.7,-6.7],[-.53,-6.46],[-.78,-7.1],[-.43,-7.16],[.07,-6.12],[.42,-6.23],[.59,-6.64],[.22,-6.98],[.47,-6.98],[-.98,-7.62],[-.88,-7.68],[-.9,-8.08],[.74,-7.85],[1,-7.04],[1.01,-7.45],[1.14,-7.85],[1.26,-7.39],[1.41,-7.5],[1.46,-7.56],[1.41,-7.85],[1.29,-8.03],[1.59,-6.29],[1.59,-6.46],[1.69,-5.89],[1.71,-6.7],[1.64,-7.04],[2.26,-6.75],[2.38,-6.58],[2.71,-6.18],[2.36,-7.45],[2.96,-7.68],[3.4,-5.71],[3.5,-5.48],[4.13,-5.19],[3.98,-6],[3.5,-6.7],[3.23,-7.5],[3.3,-7.91],[3.55,-8.08],[3.63,-7.45],[3.73,-7.5],[3.95,-7.97],[4.53,-6.12],[4.77,-5.6],[4.75,-5.89],[5.1,-6.23],[5.1,-6.35],[5.07,-6.52],[4.55,-8.03],[4.6,-8.66],[4.7,-8.89],[4.75,-8.89],[4.85,-8.84],[5.8,-7.56],[6.09,-7.68],[5.2,-9.18],[5.02,-9.64],[5.15,-10.74],[6.52,-10.8],[7.26,-9.36],[8.43,-9.47],[5.65,-12.19],[5.62,-13.46],[5.67,-13.92],[5.92,-19.93],[2.91,-15.31],[2.76,-8.6],[2.78,-9.7],[3.23,-9.64],[3.43,-9.64],[3.48,-9.3],[3.65,-9.24],[3.9,-9.3],[4.05,-9.93],[2.36,-10.4],[1.86,-11.03],[1.79,-8.89],[1.46,-10.17],[.87,-10.74],[.72,-10.28],[.69,-10.51],[.59,-9.41],[.72,-9.12],[.59,-8.55],[.39,-8.89],[.29,-8.26],[.17,-9.01],[-.06,-8.78],[-.26,-8.37],[.02,-10.1],[-.18,-9.82],[-.11,-10.68],[-.58,-9.24],[-.6,-9.12],[-.75,-9.3],[-.88,-8.72],[-.95,-8.89],[-1.08,-8.89],[-1.18,-11.73],[-1.08,-12.88],[-1.04,-12.82],[-1.05,-13.81],[.29,-13.63],[.77,-12.53],[3.2,-11.67],[3.45,-12],[3.65,-12],[3.8,-11.44],[3.63,-13.23]];

// Tick positions and axis limits of both panels.
const origXTicks=[-2,-1,0,1,2];
const origYTicks=[-2,-1,0,1,2];
const transXTicks=[-10,-5,0,5,10];
const transYTicks=[-20,-15,-10,-5,0,5,10,15];
const origXRange=[-2.738,2.935];
const origYRange=[-2.334,2.389];
const transXRange=[-12.68,10.3];
const transYRange=[-21.78,18.96];

const FONT='"DejaVu Sans"';
const TEXT='#000';

const originalGroups=[
  [origRose,'#c63961'],[origRoseDark,'#c50039'],[origTaupe,'#a5788e'],[origPurple,'#8000ff'],
  [origYellow,'#cad56e'],[origSageGreen,'#6fcc6f'],[origSage,'#849171'],[origPeach,'#ff944d'],
  [origAmber,'#ee7b11'],[origAmberDark,'#d46c00'],[origKhaki,'#91823f'],[origCyan,'#3fe3d9'],
  [origPaleGreen,'#a4faa4'],[origLightMint,'#6efac5'],[origGreen,'#61f389'],[origMintStrong,'#3fe096'],
  [origMintAqua,'#46d9a4'],[origTeal,'#2aafa4'],[origBlue,'#4d4dff'],[origSky,'#25a0f3'],
  [origBrown,'#aa4403'],[origCoral,'#ff5a25'],[origOrangeRed,'#ff4a10'],[origBrick,'#c62100'],
  [origDuskyRose,'#a4112a'],[origRed,'#ff0000'],[origBrickRed,'#cf0000'],[origMaroon,'#910000'],[origCrimson,'#a4001e']
];
const transformedGroups=[
  [transGreen,'#88fa98'],[transOlive,'#cccc60'],[transMint,'#61fac5'],[transPurple,'#8000ff'],
  [transBlue,'#4d4dff'],[transCyan,'#1adcdc'],[transSky,'#25a0f3'],[transPeach,'#ff9b5a'],
  [transOrangeRed,'#ff5a2a'],[transRed,'#ff0000']
];

function axis(name,range,ticks,gridIndex,isY){
  return {
    type:'value',gridIndex,min:range[0],max:range[1],name,nameLocation:'middle',
    position:isY?'left':'bottom',
    nameGap:isY?(gridIndex===0?38:47):30,nameRotate:isY?90:0,
    nameTextStyle:{fontFamily:FONT,fontSize:13.9,color:TEXT},
    axisLine:{show:false,onZero:false},splitLine:{show:false},
    axisTick:{show:true,customValues:ticks,length:5,lineStyle:{color:TEXT,width:1.1}},
    axisLabel:{show:true,customValues:ticks,fontFamily:FONT,fontSize:13.9,color:TEXT,margin:8,
      formatter:v=>String(v).replace('-','\u2212')}
  };
}
function seriesOf(groups,idx){
  return groups.map(([data,color])=>({
    type:'scatter',xAxisIndex:idx,yAxisIndex:idx,data,symbol:'circle',symbolSize:10,
    itemStyle:{color,opacity:0.56},animation:false,silent:true,large:false
  }));
}
const grids=[
  {left:60.5,top:32.5,width:922.5,height:705,show:true,borderColor:'#000',borderWidth:1.1,backgroundColor:'#fff'},
  {left:1057.5,top:32.5,width:923,height:705,show:true,borderColor:'#000',borderWidth:1.1,backgroundColor:'#fff'}
];
const chart=echarts.init(document.getElementById('chart'),null,{renderer:'canvas',width:1990,height:790});
chart.setOption({
  animation:false,backgroundColor:'#fff',
  title:[
    {text:'Original Patches',left:521.75,top:10.5,padding:0,textAlign:'center',textStyle:{fontFamily:FONT,fontSize:16.67,fontWeight:'normal',color:TEXT}},
    {text:'Transformed Patches',left:1519,top:10.5,padding:0,textAlign:'center',textStyle:{fontFamily:FONT,fontSize:16.67,fontWeight:'normal',color:TEXT}}
  ],
  grid:grids,
  xAxis:[axis('X Coordinate',origXRange,origXTicks,0,false),axis('X Coordinate',transXRange,transXTicks,1,false)],
  yAxis:[axis('Y Coordinate',origYRange,origYTicks,0,true),axis('Y Coordinate',transYRange,transYTicks,1,true)],
  series:[...seriesOf(originalGroups,0),...seriesOf(transformedGroups,1)]
});
</script>
</body>
</html>
